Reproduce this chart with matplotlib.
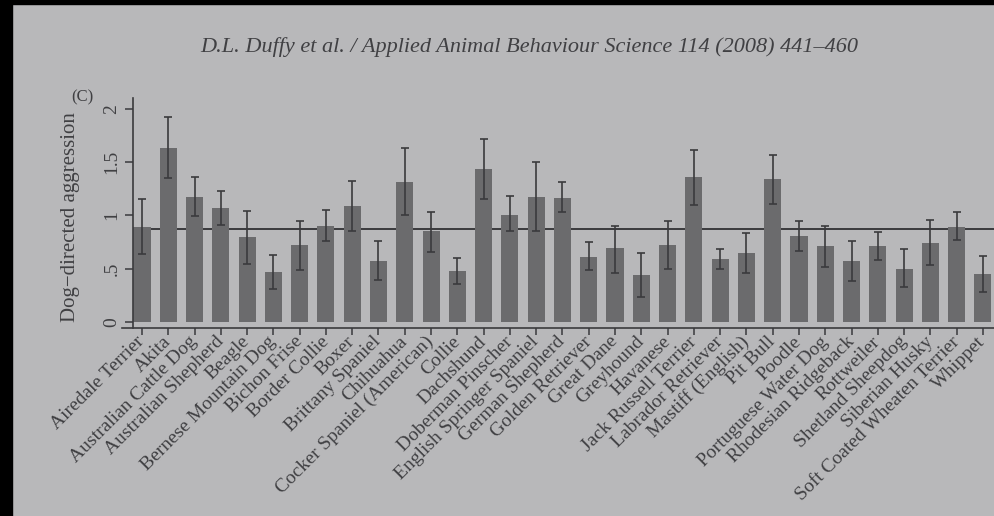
"""Dog-directed aggression by breed, redrawn from a photographed journal page."""

import matplotlib

matplotlib.use("Agg")
import matplotlib.pyplot as plt
from matplotlib.patches import Rectangle

breeds = [
    "Airedale Terrier", "Akita", "Australian Cattle Dog", "Australian Shepherd",
    "Beagle", "Bernese Mountain Dog", "Bichon Frise", "Border Collie", "Boxer",
    "Brittany Spaniel", "Chihuahua", "Cocker Spaniel (American)", "Collie",
    "Dachshund", "Doberman Pinscher", "English Springer Spaniel",
    "German Shepherd", "Golden Retriever", "Great Dane", "Greyhound",
    "Havanese", "Jack Russell Terrier", "Labrador Retriever",
    "Mastiff (English)", "Pit Bull", "Poodle", "Portuguese Water Dog",
    "Rhodesian Ridgeback", "Rottweiler", "Shetland Sheepdog",
    "Siberian Husky", "Soft Coated Wheaten Terrier", "Whippet",
]
means = [
    0.89, 1.63, 1.17, 1.07, 0.80, 0.47, 0.72, 0.90, 1.09, 0.57, 1.31,
    0.85, 0.48, 1.43, 1.00, 1.17, 1.16, 0.61, 0.69, 0.44, 0.72, 1.36,
    0.59, 0.65, 1.34, 0.81, 0.71, 0.57, 0.71, 0.50, 0.74, 0.89, 0.45,
]
upper = [
    1.15, 1.92, 1.36, 1.23, 1.04, 0.63, 0.95, 1.05, 1.32, 0.76, 1.63,
    1.03, 0.60, 1.72, 1.18, 1.50, 1.31, 0.75, 0.90, 0.65, 0.95, 1.61,
    0.68, 0.83, 1.57, 0.95, 0.90, 0.76, 0.84, 0.68, 0.96, 1.03, 0.62,
]
lower = [
    0.64, 1.35, 0.99, 0.91, 0.54, 0.31, 0.49, 0.76, 0.85, 0.39, 1.00,
    0.66, 0.36, 1.15, 0.85, 0.85, 1.03, 0.49, 0.46, 0.23, 0.50, 1.10,
    0.50, 0.46, 1.11, 0.67, 0.52, 0.38, 0.58, 0.33, 0.53, 0.77, 0.28,
]
overall_mean = 0.87
y_ticks = [0, 0.5, 1, 1.5, 2]
y_tick_labels = ["0", ".5", "1", "1.5", "2"]

PAGE = "#b8b8ba"
BAR = "#6b6b6d"
INK = "#3a3a3d"
TEXT = "#404043"
W, H = 994, 516

plt.rcParams["font.family"] = ["Liberation Serif", "DejaVu Serif"]

fig = plt.figure(figsize=(W / 100, H / 100), dpi=100, facecolor=PAGE)

# photo edges
fig.add_artist(Rectangle((0, 0), 12 / W, 1, transform=fig.transFigure,
                         color="black", zorder=10))
fig.add_artist(Rectangle((0, 1 - 4 / H), 1, 4 / H, transform=fig.transFigure,
                         color="black", zorder=10))

fig.text(529 / W, 1 - 47 / H,
         "D.L. Duffy et al. / Applied Animal Behaviour Science 114 (2008) 441\u2013460",
         ha="center", va="center", fontsize=16, style="italic", color=TEXT)

ax = fig.add_axes([122 / W, (H - 328) / H, (1010 - 122) / W, 230 / H])
ax.set_facecolor("none")

x = list(range(1, len(breeds) + 1))
ax.bar(x, means, width=0.65, color=BAR, zorder=2)
yerr = [[m - lo for m, lo in zip(means, lower)],
        [hi - m for m, hi in zip(means, upper)]]
ax.errorbar(x, means, yerr=yerr, fmt="none", ecolor=INK, elinewidth=1.2,
            capsize=3, capthick=1.2, zorder=3)

left_x = 0.66
ax.hlines(overall_mean, left_x, 35, color=INK, lw=1.4, zorder=1)

ax.set_xlim(0.24, 34.03)
ax.set_ylim(-0.056, 2.10)

for side in ("top", "right"):
    ax.spines[side].set_visible(False)
ax.spines["left"].set_position(("data", left_x))
for side in ("left", "bottom"):
    ax.spines[side].set_color(INK)
    ax.spines[side].set_linewidth(1.2)

ax.set_yticks(y_ticks)
ax.set_yticklabels(y_tick_labels, rotation=90, va="center")
ax.tick_params(axis="y", direction="out", length=6, width=1.1, color=INK,
               labelsize=14, labelcolor=TEXT, pad=3)

ax.set_xticks(x)
ax.set_xticklabels(breeds, rotation=45, ha="right", va="center",
                   rotation_mode="anchor")
ax.tick_params(axis="x", direction="out", length=5, width=1.1, color=INK,
               labelsize=14, labelcolor=TEXT, pad=3)

fig.text(70 / W, 1 - 217 / H, "Dog\u2212directed aggression", rotation=90,
         ha="center", va="center", fontsize=15, color=TEXT)
fig.text(82 / W, 1 - 97 / H, "(C)", ha="center", va="center",
         fontsize=12, color=TEXT)

fig.savefig("out.png", dpi=100, facecolor=PAGE)
